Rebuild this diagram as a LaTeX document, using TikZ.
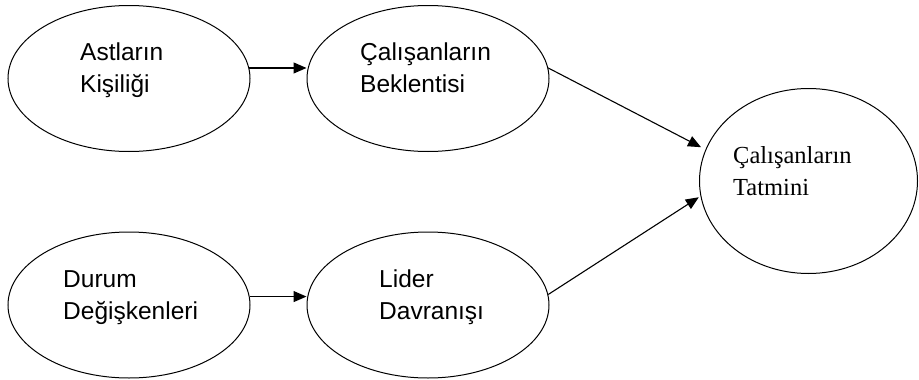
\documentclass[tikz,border=0pt]{standalone}
\usepackage{fontspec}
\setmainfont{Liberation Sans}
\newfontfamily\serifface{Liberation Serif}
\usetikzlibrary{shapes.geometric,arrows.meta}
\begin{document}
\begin{tikzpicture}[x=1pt,y=-1pt,
  oval/.style={draw=black,line width=1pt,ellipse,inner sep=0pt,minimum width=242pt,minimum height=146pt},
  label/.style={align=left,anchor=base west,inner sep=0pt,font=\fontsize{24.5}{32}\selectfont},
  flow/.style={draw=black,line width=1.1pt,-{Triangle[length=13pt,width=11pt]}}]
\useasboundingbox (0,0) rectangle (919,380);
% ellipses
\node[oval] (pers) at (129,78.5) {};
\node[oval] (expe) at (428,78.5) {};
\node[oval] (situ) at (129,305) {};
\node[oval] (lead) at (428,305) {};
\node[oval,minimum width=218pt,minimum height=185pt] (sati) at (808.5,181) {};
% labels (anchored on the baseline of the second line)
\node[label] (tpers) at (80,92) {Astların\\Kişiliği};
\node[label] (texpe) at (360,92) {Çalışanların\\Beklentisi};
\node[label] (tsitu) at (63,319) {Durum\\Değişkenleri};
\node[label] (tlead) at (379,319) {Lider\\Davranışı};
\node[label,font=\serifface\fontsize{24.5}{32}\selectfont] (tsati) at (733,195) {Çalışanların\\Tatmini};
% connectors
\draw[flow] (pers.5.7) -- (pers.5.7 -| expe.west);
\draw[flow] (situ.4.7) -- (situ.4.7 -| lead.west);
\draw[flow,shorten >=5pt] (expe.5.2) -- (sati.163.3);
\draw[flow,shorten >=2pt] (lead.5.6) -- (sati.188.9);
\end{tikzpicture}
\end{document}
